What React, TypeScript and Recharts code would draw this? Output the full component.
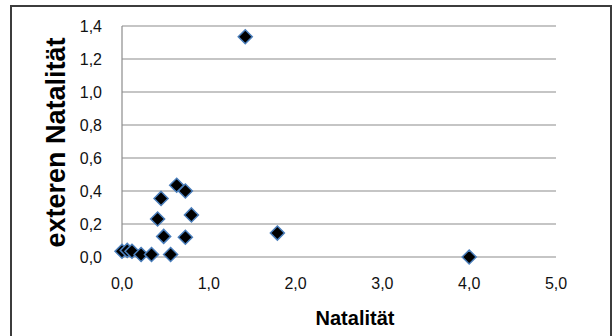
import { ScatterChart, Scatter, XAxis, YAxis, CartesianGrid, Label } from 'recharts';

// Natalität (x) und externe Natalität (y), pro Punkt
const natalitaet = [0.0, 0.06, 0.115, 0.22, 0.34, 0.56, 0.41, 0.45, 0.48, 0.63, 0.73, 0.73, 0.8, 1.42, 1.79, 4.0];
const externeNatalitaet = [0.035, 0.04, 0.035, 0.015, 0.015, 0.015, 0.23, 0.355, 0.125, 0.435, 0.4, 0.12, 0.255, 1.335, 0.145, 0.0];

const xTicks = [0, 1, 2, 3, 4, 5];
const yTicks = [0, 0.2, 0.4, 0.6, 0.8, 1.0, 1.2, 1.4];

const points = natalitaet.map((x, i) => ({ x, y: externeNatalitaet[i] }));

const fmt = (v: number) => v.toFixed(1).replace('.', ',');

const FONT = '"Liberation Sans", Arial, sans-serif';

const Diamond = (props: any) => {
    const { cx, cy } = props;
    const r = 7;
    return (
        <path
            d={`M${cx},${cy - r} L${cx + r},${cy} L${cx},${cy + r} L${cx - r},${cy} Z`}
            fill="#000"
            stroke="#4a7ebb"
            strokeWidth={1.5}
        />
    );
};

const App = () => {
    return (
        <div style={{ position: 'absolute', left: 0, top: 0, width: 614, height: 336, overflow: 'hidden', background: '#fff' }}>
            <ScatterChart
                width={614}
                height={336}
                margin={{ top: 26, right: 58, left: 0, bottom: 0 }}
            >
                {/* Rahmen um das Diagramm */}
                <rect x={11} y={6} width={600} height={400} fill="none" stroke="#3c3c3c" strokeWidth={2} />
                <CartesianGrid vertical={false} stroke="#8c8c8c" strokeWidth={1.2} />
                <XAxis
                    type="number"
                    dataKey="x"
                    domain={[0, 5]}
                    ticks={xTicks}
                    tickFormatter={fmt}
                    height={79}
                    axisLine={false}
                    tickLine={false}
                    tickSize={0}
                    tickMargin={21}
                    tick={{ fontSize: 16, fill: '#111', fontFamily: FONT }}
                >
                    <Label
                        content={({ viewBox }: any) => (
                            <text
                                x={viewBox.x + viewBox.width / 2 + 16}
                                y={viewBox.y + 68}
                                textAnchor="middle"
                                fontSize={20}
                                fontWeight="bold"
                                fontFamily={FONT}
                                fill="#000"
                            >
                                Natalität
                            </text>
                        )}
                    />
                </XAxis>
                <YAxis
                    type="number"
                    dataKey="y"
                    domain={[0, 1.4]}
                    ticks={yTicks}
                    tickFormatter={fmt}
                    width={122}
                    axisLine={{ stroke: '#8c8c8c', strokeWidth: 1.2 }}
                    tickLine={false}
                    tickSize={0}
                    tickMargin={20}
                    tick={{ fontSize: 16, fill: '#111', fontFamily: FONT }}
                >
                    <Label
                        content={({ viewBox }: any) => {
                            const cx = 65;
                            const cy = viewBox.y + viewBox.height / 2 + 1;
                            return (
                                <text
                                    x={cx}
                                    y={cy}
                                    transform={`rotate(-90, ${cx}, ${cy})`}
                                    textAnchor="middle"
                                    fontSize={27}
                                    fontWeight="bold"
                                    fontFamily={FONT}
                                    fill="#000"
                                >
                                    exteren Natalität
                                </text>
                            );
                        }}
                    />
                </YAxis>
                <Scatter data={points} shape={Diamond} isAnimationActive={false} />
            </ScatterChart>
        </div>
    );
};

export default App;
